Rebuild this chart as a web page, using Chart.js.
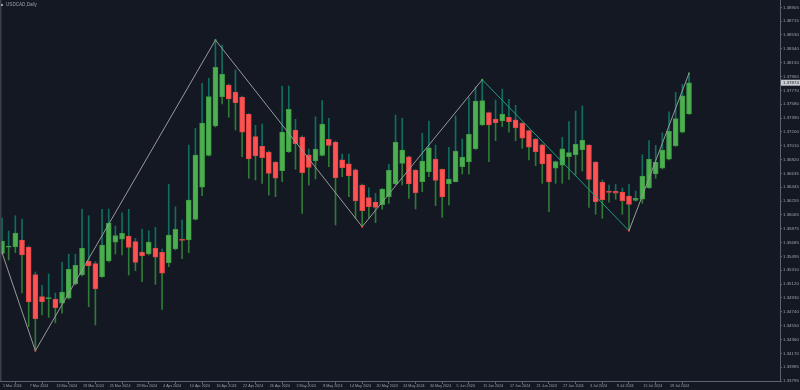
<!DOCTYPE html>
<html>
<head>
<meta charset="utf-8">
<title>USDCAD,Daily</title>
<script src="https://cdn.jsdelivr.net/npm/chart.js@4.4.1/dist/chart.umd.min.js"></script>
<style>
  html, body { margin: 0; padding: 0; background: #141823; }
  #wrap { position: relative; width: 800px; height: 390px; }
  #title { position: absolute; left: 1px; top: 2px; font: 4.6px "Liberation Sans", Arial, sans-serif; color: #9aa0aa; white-space: nowrap; }
  #title span { display: inline-block; width: 2px; height: 2px; background: #9aa0aa; margin-right: 3px; vertical-align: middle; }
</style>
</head>
<body>
<div id="wrap">
  <canvas id="chart" width="800" height="390"></canvas>
  <div id="title"><span></span>USDCAD,Daily</div>
</div>
<script>
// daily OHLC, 1 Mar 2024 .. 24 Jul 2024 (104 bars)
const openP = [
  1.35541, 1.35625, 1.35627, 1.35723, 1.35623, 1.35249, 1.34948, 1.34922, 1.34916, 1.34858,
  1.34926, 1.35121, 1.35244, 1.35432, 1.35399, 1.35221, 1.35436, 1.35692, 1.35733, 1.35778,
  1.35700, 1.35559, 1.35532, 1.35614, 1.35555, 1.35413, 1.35600, 1.35733, 1.35723, 1.36006,
  1.36444, 1.36881, 1.37282, 1.37683, 1.37843, 1.37747, 1.37678, 1.37442, 1.37136, 1.37004,
  1.36926, 1.36786, 1.36671, 1.36931, 1.37227, 1.37132, 1.36889, 1.36803, 1.36881, 1.37100,
  1.37063, 1.36821, 1.36766, 1.36684, 1.36475, 1.36302, 1.36243, 1.36206, 1.36315, 1.36489,
  1.36772, 1.36862, 1.36680, 1.36520, 1.36657, 1.36831, 1.36690, 1.36493, 1.36520, 1.36725,
  1.36790, 1.36971, 1.37296, 1.37464, 1.37378, 1.37350, 1.37401, 1.37368, 1.37323, 1.37218,
  1.37104, 1.37026, 1.36895, 1.36704, 1.36745, 1.36862, 1.36889, 1.36958, 1.37022, 1.36790,
  1.36516, 1.36393, 1.36389, 1.36379, 1.36325, 1.36266, 1.36280, 1.36438, 1.36626, 1.36704,
  1.36827, 1.37013, 1.37196, 1.37446
];
const highP = [
  1.36024, 1.35846, 1.36055, 1.36010, 1.35641, 1.35286, 1.35104, 1.35258, 1.34998, 1.35418,
  1.35528, 1.35528, 1.36147, 1.36055, 1.35426, 1.36143, 1.36147, 1.35915, 1.36096, 1.36143,
  1.35746, 1.35873, 1.35850, 1.35897, 1.35600, 1.36485, 1.36178, 1.35997, 1.37022, 1.37250,
  1.37866, 1.37934, 1.38458, 1.38390, 1.37857, 1.38048, 1.37692, 1.37453, 1.37291, 1.37309,
  1.36940, 1.36797, 1.37829, 1.37829, 1.37374, 1.37146, 1.36967, 1.37409, 1.37628, 1.37387,
  1.37077, 1.36899, 1.36899, 1.36694, 1.36489, 1.36438, 1.36362, 1.36427, 1.36758, 1.37432,
  1.37387, 1.36872, 1.36687, 1.37182, 1.37350, 1.37022, 1.36694, 1.36991, 1.37419, 1.37104,
  1.37669, 1.37819, 1.37915, 1.37473, 1.37637, 1.37788, 1.37647, 1.37565, 1.37330, 1.37227,
  1.37111, 1.37036, 1.36899, 1.36803, 1.37127, 1.37341, 1.37487, 1.37555, 1.37029, 1.36797,
  1.36544, 1.36475, 1.36485, 1.36434, 1.36485, 1.36393, 1.36889, 1.37081, 1.37018, 1.37190,
  1.37477, 1.37743, 1.37852, 1.38003
];
const lowP = [
  1.35532, 1.35450, 1.35549, 1.34998, 1.34538, 1.34209, 1.34698, 1.34666, 1.34592, 1.34721,
  1.34916, 1.35108, 1.35231, 1.34811, 1.34561, 1.35210, 1.35422, 1.35532, 1.35518, 1.35244,
  1.35303, 1.35153, 1.35518, 1.35117, 1.34775, 1.35358, 1.35586, 1.35467, 1.35549, 1.35997,
  1.36329, 1.36872, 1.37268, 1.37583, 1.37401, 1.37227, 1.36862, 1.36567, 1.36544, 1.36498,
  1.36338, 1.36315, 1.36520, 1.36920, 1.36690, 1.36088, 1.36475, 1.36557, 1.36872, 1.36725,
  1.35928, 1.36589, 1.36315, 1.36020, 1.35905, 1.36020, 1.35960, 1.36143, 1.36225, 1.36482,
  1.36475, 1.36293, 1.36147, 1.36384, 1.36589, 1.36192, 1.36033, 1.36202, 1.36516, 1.36626,
  1.36622, 1.36960, 1.37289, 1.36794, 1.37081, 1.37272, 1.37196, 1.37081, 1.36977, 1.36817,
  1.36739, 1.36498, 1.36110, 1.36498, 1.36498, 1.36553, 1.36612, 1.36667, 1.36170, 1.36075,
  1.36020, 1.36239, 1.36280, 1.36075, 1.35850, 1.36256, 1.36225, 1.36427, 1.36567, 1.36694,
  1.36817, 1.37002, 1.37186, 1.37439
];
const closeP = [
  1.35709, 1.35630, 1.35819, 1.35518, 1.34875, 1.34647, 1.34879, 1.34930, 1.34797, 1.35012,
  1.35322, 1.35377, 1.35610, 1.35368, 1.35053, 1.35655, 1.35951, 1.35782, 1.35815, 1.35623,
  1.35418, 1.35508, 1.35696, 1.35487, 1.35268, 1.35791, 1.35869, 1.35719, 1.36270, 1.36885,
  1.37323, 1.37683, 1.38085, 1.37989, 1.37651, 1.37601, 1.37196, 1.36831, 1.36872, 1.36848,
  1.36635, 1.36567, 1.37200, 1.37510, 1.37040, 1.36643, 1.36717, 1.36967, 1.37309, 1.37018,
  1.36575, 1.36712, 1.36598, 1.36256, 1.36124, 1.36178, 1.36170, 1.36420, 1.36676, 1.37059,
  1.36954, 1.36489, 1.36370, 1.36803, 1.36985, 1.36539, 1.36311, 1.36557, 1.36940, 1.36854,
  1.37168, 1.37624, 1.37628, 1.37296, 1.37327, 1.37446, 1.37337, 1.37255, 1.37114, 1.36991,
  1.36931, 1.36762, 1.36516, 1.36794, 1.36971, 1.36917, 1.37032, 1.37086, 1.36553, 1.36243,
  1.36270, 1.36375, 1.36362, 1.36260, 1.36211, 1.36293, 1.36598, 1.36827, 1.36786, 1.36954,
  1.37209, 1.37382, 1.37696, 1.37874
];

// zigzag turning points (bar index, price)
const zigBars = [0, 5, 32, 54, 72, 94, 103];
const zigPrice = [1.35550, 1.34209, 1.38458, 1.35905, 1.37915, 1.35850, 1.38003];

const xTickBars = [0, 4, 8, 12, 16, 20, 24, 28, 32, 36, 40, 44, 48, 52, 56, 60, 64, 68, 72, 76, 80, 84, 88, 92, 96, 100];
const xTickLabels = ['1 Mar 2024', '7 Mar 2024', '13 Mar 2024', '19 Mar 2024', '25 Mar 2024', '29 Mar 2024',
  '4 Apr 2024', '10 Apr 2024', '16 Apr 2024', '22 Apr 2024', '26 Apr 2024', '2 May 2024', '8 May 2024',
  '14 May 2024', '20 May 2024', '24 May 2024', '30 May 2024', '5 Jun 2024', '11 Jun 2024', '17 Jun 2024',
  '21 Jun 2024', '27 Jun 2024', '3 Jul 2024', '9 Jul 2024', '15 Jul 2024', '19 Jul 2024'];
const yTickLabels = ['1.38905', '1.38715', '1.38530', '1.38340', '1.38150', '1.37960', '1.37770', '1.37580',
  '1.37390', '1.37200', '1.37010', '1.36820', '1.36635', '1.36445', '1.36255', '1.36065', '1.35875', '1.35685',
  '1.35495', '1.35310', '1.35120', '1.34930', '1.34740', '1.34550', '1.34360', '1.34170', '1.33985', '1.33795'];

const AXIS = '#5d6270';
const TXT = '#9aa0aa';
const UP = '#4caf50', DOWN = '#ff5252';

const isUp = openP.map((o, i) => closeP[i] >= o);
const bodies = openP.map((o, i) => ({ x: i, y: [o, closeP[i]] }));
const upperWicks = openP.map((o, i) => ({ x: i, y: [Math.max(o, closeP[i]), highP[i]] }));
const lowerWicks = openP.map((o, i) => ({ x: i, y: [lowP[i], Math.min(o, closeP[i])] }));
const zigPoints = zigBars.map((b, k) => ({ x: b, y: zigPrice[k] }));
const zigDotColors = zigBars.map((b, k) => k === 0 ? '#9a9a9a' : (zigPrice[k] > zigPrice[k - 1] ? UP : DOWN));

// extra bits the chart doesn't do itself
const frame = {
  id: 'frame',
  afterDraw(chart) {
    const ctx = chart.ctx;
    const y = chart.scales.y;
    ctx.save();
    ctx.fillStyle = '#3a3f4a';
    ctx.fillRect(0, 0, 1.5, chart.chartArea.bottom);
    // current price box
    const last = closeP[closeP.length - 1];
    const py = y.getPixelForValue(last);
    ctx.fillStyle = '#c8cbd2';
    ctx.fillRect(781, py - 3, 19, 6);
    ctx.fillStyle = '#1a1d26';
    ctx.font = '4.4px "Liberation Sans", Arial, sans-serif';
    ctx.textBaseline = 'middle';
    ctx.fillText(last.toFixed(5), 783, py + 0.3);
    ctx.restore();
  }
};

new Chart(document.getElementById('chart'), {
  type: 'bar',
  data: {
    datasets: [
      {
        type: 'line',
        data: zigPoints,
        borderColor: '#9a9a9a',
        borderWidth: 1,
        pointRadius: 1.2,
        pointStyle: 'rect',
        pointBackgroundColor: zigDotColors,
        pointBorderWidth: 0,
        tension: 0,
        segment: { borderColor: c => c.p0DataIndex === 4 ? '#1f9e86' : '#9a9a9a' },
        order: 0
      },
      {
        data: bodies,
        backgroundColor: isUp.map(u => u ? UP : DOWN),
        borderColor: isUp.map(u => u ? '#3f9b44' : '#e04848'),
        borderWidth: 1,
        borderSkipped: false,
        barThickness: 5,
        minBarLength: 1,
        grouped: false,
        order: 1
      },
      {
        data: upperWicks,
        backgroundColor: '#106e5e',
        barThickness: 1,
        grouped: false,
        order: 2
      },
      {
        data: lowerWicks,
        backgroundColor: '#2f7a36',
        barThickness: 1,
        grouped: false,
        order: 2
      }
    ]
  },
  options: {
    responsive: false,
    animation: false,
    devicePixelRatio: 1,
    layout: { padding: 0, autoPadding: false },
    plugins: { legend: { display: false }, tooltip: { enabled: false } },
    scales: {
      x: {
        type: 'linear',
        min: -0.3,
        max: 116.64,
        offset: false,
        grid: { drawOnChartArea: false, drawTicks: true, tickLength: 3, color: AXIS },
        border: { display: true, color: AXIS },
        afterBuildTicks: s => { s.ticks = xTickBars.map(v => ({ value: v })); },
        ticks: {
          autoSkip: false, maxRotation: 0, align: 'start', labelOffset: 1, padding: 0,
          color: TXT, font: { size: 3.7, family: '"Liberation Sans", Arial, sans-serif' },
          callback: (v, i) => xTickLabels[i]
        },
        afterFit: s => { s.height = 9; s.paddingLeft = 0; s.paddingRight = 0; }
      },
      y: {
        position: 'right',
        min: 1.33795,
        max: 1.39005,
        grid: { drawOnChartArea: false, drawTicks: true, tickLength: 2, color: AXIS },
        border: { display: true, color: AXIS },
        afterBuildTicks: s => { s.ticks = yTickLabels.map(t => ({ value: parseFloat(t) })); },
        ticks: {
          autoSkip: false, padding: 1,
          color: TXT, font: { size: 4.4, family: '"Liberation Sans", Arial, sans-serif' },
          callback: (v, i) => yTickLabels[i]
        },
        afterFit: s => { s.width = 20; s.paddingTop = 0; s.paddingBottom = 0; }
      }
    }
  },
  plugins: [frame]
});
</script>
</body>
</html>
